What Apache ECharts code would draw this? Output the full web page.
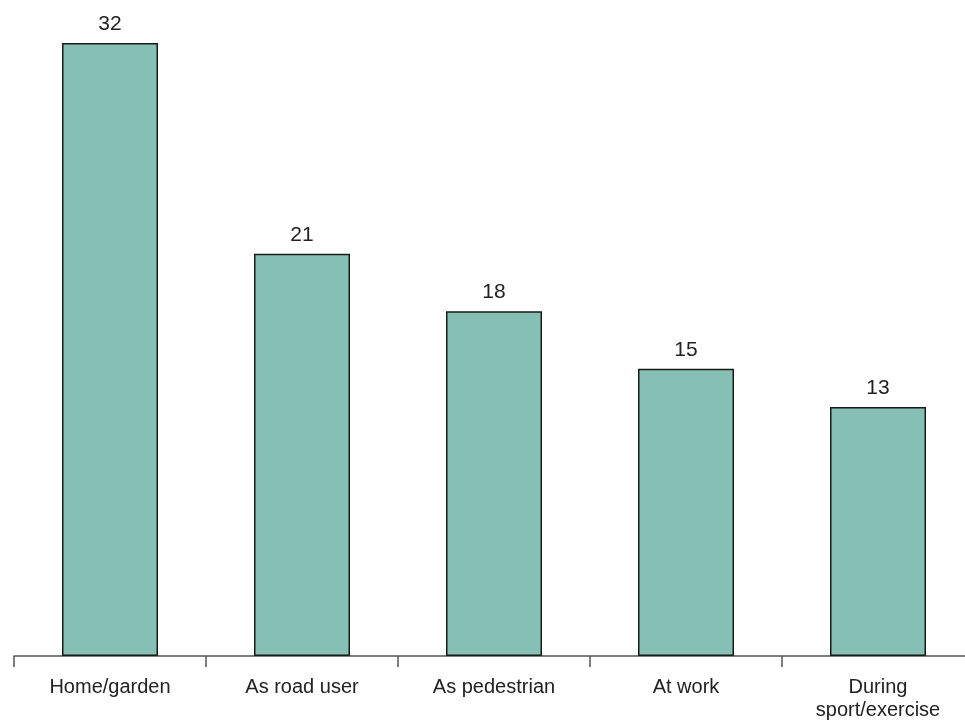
<!DOCTYPE html>
<html>
<head>
<meta charset="utf-8">
<script src="https://cdn.jsdelivr.net/npm/echarts@6/dist/echarts.min.js"></script>
<style>
  html, body { margin: 0; padding: 0; background: #fff; overflow: hidden; }
  /* canvas runs a little past the right edge so the last category is cut off there */
  #chart { width: 990px; height: 722px; }
</style>
</head>
<body>
<div id="chart"></div>
<script>
// Injury location categories and their values
const categories = ['Home/garden', 'As road user', 'As pedestrian', 'At work', 'During\nsport/exercise'];
const values = [32, 21, 18, 15, 13];

const chart = echarts.init(document.getElementById('chart'), null, { renderer: 'canvas' });

chart.setOption({
  animation: false,
  grid: { left: 14, width: 960, top: 43, bottom: 66, containLabel: false },
  xAxis: {
    type: 'category',
    data: categories,
    boundaryGap: true,
    axisLine: { show: true, lineStyle: { color: '#555', width: 1.5 } },
    axisTick: { show: true, length: 11, lineStyle: { color: '#555', width: 1.5 } },
    axisLabel: {
      interval: 0,
      margin: 20,
      color: '#222',
      fontFamily: 'Liberation Sans, Arial, sans-serif',
      fontSize: 20,
      lineHeight: 23
    }
  },
  yAxis: {
    type: 'value',
    min: 0,
    max: 32,
    show: false,
    splitLine: { show: false }
  },
  series: [{
    type: 'bar',
    data: values,
    barWidth: '50%',
    itemStyle: { color: '#86bfb3', borderColor: '#1a1a1a', borderWidth: 1.5 },
    label: {
      show: true,
      position: 'top',
      distance: 8,
      color: '#222',
      fontFamily: 'Liberation Sans, Arial, sans-serif',
      fontSize: 21
    }
  }]
});
</script>
</body>
</html>
